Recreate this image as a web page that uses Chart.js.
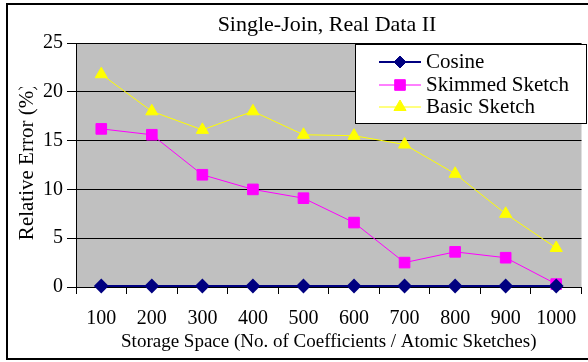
<!DOCTYPE html>
<html>
<head>
<meta charset="utf-8">
<script src="https://cdn.jsdelivr.net/npm/chart.js@4"></script>
<style>
  html, body { margin: 0; padding: 0; background: #fff; overflow: hidden; width: 588px; height: 362px; }
  #wrap { position: absolute; left: 0; top: 0; width: 590px; height: 362px; }
  #frame { position: absolute; left: 6px; top: 3px; width: 600px; height: 353px; border: 2px solid #000; pointer-events: none; }
</style>
</head>
<body>
<div id="wrap"><canvas id="c" width="590" height="362"></canvas></div>
<div id="frame"></div>
<script>
const chartTitle = 'Single-Join, Real Data II';
const xTitle = 'Storage Space (No. of Coefficients / Atomic Sketches)';
const yTitle = 'Relative Error (%)';
const categories = ['100', '200', '300', '400', '500', '600', '700', '800', '900', '1000'];
const seriesNames = ['Cosine', 'Skimmed Sketch', 'Basic Sketch'];
const cosine  = [0.1, 0.1, 0.1, 0.1, 0.1, 0.1, 0.1, 0.1, 0.1, 0.1];
const skimmed = [16.2, 15.6, 11.5, 10.0, 9.1, 6.6, 2.5, 3.6, 3.0, 0.3];
const basic   = [21.8, 18.0, 16.1, 18.0, 15.6, 15.5, 14.6, 11.6, 7.5, 4.0];
const yTicks  = [0, 5, 10, 15, 20, 25];

const FONT = 'Liberation Serif, Times New Roman, serif';

const bgPlugin = {
  id: 'plotBg',
  beforeDraw(chart) {
    const {ctx, chartArea: a} = chart;
    ctx.save();
    ctx.fillStyle = '#C0C0C0';
    ctx.fillRect(a.left, a.top, a.right - a.left, a.bottom - a.top);
    ctx.restore();
  }
};

const titlePlugin = {
  id: 'customTitle',
  afterDraw(chart) {
    const ctx = chart.ctx;
    ctx.save();
    ctx.font = '22px ' + FONT;
    ctx.fillStyle = '#000';
    ctx.textAlign = 'center';
    ctx.textBaseline = 'middle';
    ctx.fillText(chartTitle, 327, 25);
    ctx.restore();
  }
};

const legendPlugin = {
  id: 'customLegend',
  afterDraw(chart) {
    const ctx = chart.ctx;
    const x0 = 355, y0 = 44, w = 231, h = 79;
    ctx.save();
    ctx.fillStyle = '#fff';
    ctx.fillRect(x0, y0, w, h);
    ctx.strokeStyle = '#000';
    ctx.lineWidth = 1;
    ctx.strokeRect(x0 + 0.5, y0 + 0.5, w, h);
    ctx.restore();
    const ys = [62, 85, 107];
    chart.data.datasets.forEach((ds, i) => {
      const y = ys[i];
      ctx.save();
      ctx.strokeStyle = ds.borderColor;
      ctx.lineWidth = ds.borderWidth;
      ctx.beginPath();
      ctx.moveTo(379, y);
      ctx.lineTo(421, y);
      ctx.stroke();
      ctx.fillStyle = ds.pointBackgroundColor;
      ctx.strokeStyle = ds.pointBorderColor;
      ctx.lineWidth = 1;
      Chart.helpers.drawPoint(ctx, {pointStyle: ds.pointStyle, radius: ds.pointRadius, borderWidth: 1, rotation: 0}, 400, y);
      ctx.fillStyle = '#000';
      ctx.font = '21px ' + FONT;
      ctx.textAlign = 'left';
      ctx.textBaseline = 'middle';
      ctx.fillText(ds.label, 426, y);
      ctx.restore();
    });
  }
};

function patchYTitle(scale) {
  if (scale._titlePatched) return;
  const orig = scale.drawTitle.bind(scale);
  scale.drawTitle = function () {
    const ctx = this.ctx;
    ctx.save();
    ctx.beginPath();
    ctx.rect(0, 87, 76, 275);
    ctx.clip();
    ctx.translate(0, -3);
    orig();
    ctx.restore();
  };
  scale._titlePatched = true;
}

new Chart(document.getElementById('c'), {
  type: 'line',
  data: {
    labels: categories,
    datasets: [
      { label: seriesNames[0], data: cosine, borderColor: '#000080', backgroundColor: '#000080',
        pointBackgroundColor: '#000080', pointBorderColor: '#000080', borderWidth: 2,
        pointStyle: 'rectRot', pointRadius: 6, tension: 0 },
      { label: seriesNames[1], data: skimmed, borderColor: '#FF00FF', backgroundColor: '#FF00FF',
        pointBackgroundColor: '#FF00FF', pointBorderColor: '#FF00FF', borderWidth: 1,
        pointStyle: 'rect', pointRadius: 7.5, tension: 0 },
      { label: seriesNames[2], data: basic, borderColor: '#FFFF00', backgroundColor: '#FFFF00',
        pointBackgroundColor: '#FFFF00', pointBorderColor: '#FFFF00', borderWidth: 1,
        pointStyle: 'triangle', pointRadius: 7, tension: 0 }
    ]
  },
  options: {
    responsive: false,
    animation: false,
    clip: false,
    layout: { padding: { top: 43, left: 0, right: 0, bottom: 0 } },
    plugins: { legend: { display: false }, title: { display: false }, tooltip: { enabled: false } },
    scales: {
      x: {
        type: 'category',
        offset: true,
        grid: { offset: true, drawOnChartArea: false, drawTicks: true, tickLength: 7, color: '#000', lineWidth: 1 },
        border: { display: true, color: '#000', width: 1 },
        ticks: { color: '#000', font: { family: FONT, size: 20 }, padding: 13, maxRotation: 0, autoSkip: false },
        title: { display: true, text: xTitle, color: '#000', font: { family: FONT, size: 19 }, padding: { top: 0, bottom: 9 } },
        afterFit(scale) { scale.height = 75; }
      },
      y: {
        min: 0, max: 25,
        afterBuildTicks(scale) { scale.ticks = yTicks.map(v => ({ value: v })); },
        grid: { color: '#000', lineWidth: 1, tickLength: 9, drawTicks: true },
        border: { display: true, color: '#000', width: 1 },
        ticks: { color: '#000', font: { family: FONT, size: 20 }, padding: 4 },
        title: { display: true, text: yTitle, color: '#000', font: { family: FONT, size: 21 }, padding: { top: 15, bottom: 0 } },
        afterFit(scale) { scale.width = 76; patchYTitle(scale); }
      }
    }
  },
  plugins: [bgPlugin, titlePlugin, legendPlugin]
});
</script>
</body>
</html>
